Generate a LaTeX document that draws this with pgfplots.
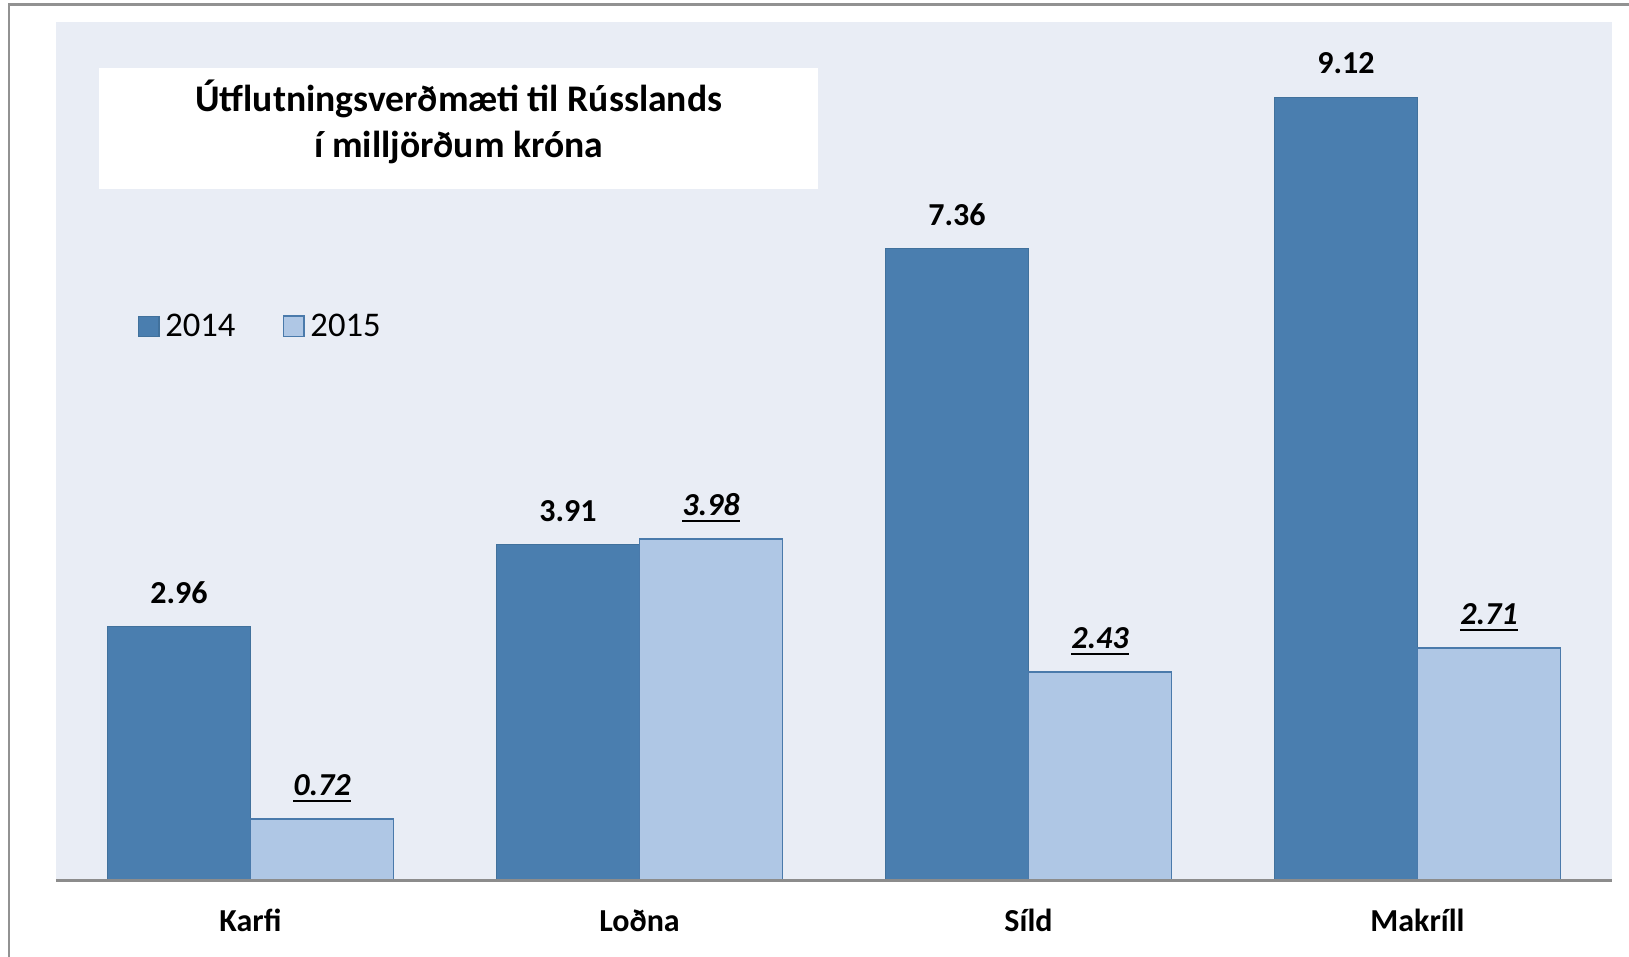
\documentclass[border=0pt]{standalone}
\usepackage{pgfplots}
\pgfplotsset{compat=1.18}
\usepackage{fontspec}
\setmainfont{Carlito}
\definecolor{bgc}{HTML}{E9EDF5}
\definecolor{bluedark}{HTML}{4A7EAF}
\definecolor{bluedarkb}{HTML}{41719C}
\definecolor{bluelight}{HTML}{AFC7E5}
\definecolor{bluelightb}{HTML}{4A7AAB}
\definecolor{axgray}{HTML}{8C8C8C}
\definecolor{framegray}{HTML}{929292}
\newsavebox\ulbox
\newcommand\ul[1]{\sbox\ulbox{#1}\rlap{\rule[-3.35pt]{\wd\ulbox}{1.2pt}}\usebox\ulbox}
\begin{document}
\begin{tikzpicture}
\useasboundingbox (-28pt,-38.15pt) rectangle (786.5pt,440.35pt);
\draw[framegray, line width=1.25pt] (-23.5pt,-38.15pt) -- (-23.5pt,438.1pt) -- (786.5pt,438.1pt);
\begin{axis}[
  at={(0pt,0pt)}, anchor=south west,
  scale only axis, width=778pt, height=429.5pt,
  xmin=-0.5, xmax=3.5, ymin=0, ymax=10,
  axis background/.style={fill=bgc},
  axis x line*=bottom, axis y line=none,
  x axis line style={axgray, line width=1.3pt},
  xtick={0,1,2,3}, xticklabels={Karfi,Loðna,Síld,Makríll},
  major tick length=0pt,
  xticklabel style={font=\fontsize{16}{19}\selectfont\bfseries, anchor=base, inner sep=0pt, yshift=-25.2pt},
  ytick=\empty,
  ybar, bar width=0.368, bar shift=0pt,
  point meta=explicit symbolic,
  every node near coord/.append style={inner sep=0pt, yshift=10.9pt},
  legend columns=2,
  legend style={draw=none, fill=none, inner sep=0pt, at={(0.0524,0.6452)}, anchor=west,
    font=\fontsize{17.3}{20}\selectfont,
    /tikz/every even column/.append style={column sep=21.6pt}},
  legend image code/.code={\draw[#1] (0pt,-5.1pt) rectangle (10.2pt,5.1pt); \path (11.1pt,0pt);},
  clip=false,
  axis on top,
]
\addplot[fill=bluedark, draw=bluedarkb, line width=0.6pt,
  nodes near coords={\smash{\pgfplotspointmeta}},
  every node near coord/.append style={font=\fontsize{16}{19}\selectfont\bfseries, black}]
  coordinates {(-0.184,2.96) [2.96] (0.816,3.91) [3.91] (1.816,7.36) [7.36] (2.816,9.12) [9.12]};
\addlegendentry{2014}
\addplot[fill=bluelight, draw=bluelightb, line width=0.8pt,
  nodes near coords={\smash{\ul{\pgfplotspointmeta}}},
  every node near coord/.append style={font=\fontsize{16}{19}\selectfont\bfseries\itshape, black}]
  coordinates {(0.184,0.72) [0.72] (1.184,3.98) [3.98] (2.184,2.43) [2.43] (3.184,2.71) [2.71]};
\addlegendentry{2015}
\end{axis}
\fill[white] (21.6pt,346pt) rectangle (381.2pt,406.35pt);
\node[anchor=base, inner sep=0pt, font=\fontsize{18.8}{22}\selectfont\bfseries] at (201.4pt,384.35pt) {Útflutningsverðmæti til Rússlands};
\node[anchor=base, inner sep=0pt, font=\fontsize{18.8}{22}\selectfont\bfseries] at (201.4pt,361.6pt) {í milljörðum króna};
\end{tikzpicture}
\end{document}
